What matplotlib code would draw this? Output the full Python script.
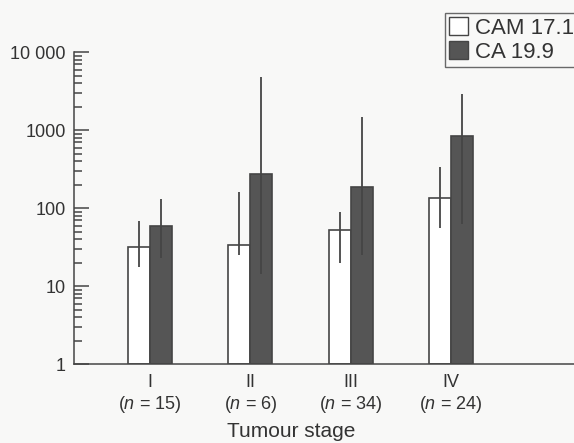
import matplotlib
matplotlib.use("Agg")
import matplotlib.pyplot as plt
import numpy as np
from matplotlib.ticker import FixedLocator, NullFormatter
from matplotlib.patches import Patch

plt.rcParams['font.family'] = ['Liberation Sans', 'DejaVu Sans']
plt.rcParams['mathtext.fontset'] = 'custom'
plt.rcParams['mathtext.it'] = 'Liberation Sans:italic'
plt.rcParams['mathtext.rm'] = 'Liberation Sans'

# data (U/ml, log scale)
stages = ["I", "II", "III", "IV"]
n_patients = [15, 6, 34, 24]
cam_median = [31, 33, 52, 133]
cam_low = [17.5, 25, 20, 56]
cam_high = [68, 162, 89, 336]
ca_median = [59, 275, 189, 855]
ca_low = [23, 14.5, 25, 63]
ca_high = [133, 4800, 1470, 2950]

ink = '#454545'
bg = '#f8f8f7'

fig = plt.figure(figsize=(5.74, 4.43), dpi=100, facecolor=bg)
ax = fig.add_axes([0.129, 0.1777, 0.871, 0.7043], facecolor=bg)

x = np.arange(len(stages))
w = 0.22
ax.bar(x - w / 2, cam_median, width=w, bottom=1, color='white', edgecolor=ink,
       linewidth=1.2, zorder=2)
ax.bar(x + w / 2, ca_median, width=w, bottom=1, color='#555555', edgecolor=ink,
       linewidth=1.2, zorder=2)
ax.vlines(x - w / 2, cam_low, cam_high, color=ink, linewidth=1.3, zorder=3)
ax.vlines(x + w / 2, ca_low, ca_high, color=ink, linewidth=1.3, zorder=3)

ax.set_yscale('log')
ax.set_ylim(1, 10000)
ax.set_xlim(-0.76, 4.23)

ax.yaxis.set_major_locator(FixedLocator([1, 10, 100, 1000, 10000]))
ax.set_yticklabels(["1", "10", "100", "1000", "10 000"])
ax.yaxis.set_minor_locator(FixedLocator(
    [m * 10 ** d for d in range(4) for m in range(2, 10)]))
ax.yaxis.set_minor_formatter(NullFormatter())
ax.tick_params(axis='y', which='major', direction='in', length=11, width=1.1,
               color=ink, labelsize=13, pad=6, labelcolor='#333333')
ax.tick_params(axis='y', which='minor', direction='in', length=6, width=1.1,
               color=ink)

ax.set_xticks(x)
ax.set_xticklabels([f"{s}\n($n$ = {n})" for s, n in zip(stages, n_patients)],
                   fontsize=13, color='#333333', linespacing=1.2)
ax.tick_params(axis='x', length=0, pad=7)

ax.set_xlabel("Tumour stage", fontsize=15, color='#333333')
ax.xaxis.set_label_coords(0.434, -0.186)

for side in ['top', 'right']:
    ax.spines[side].set_visible(False)
for side in ['left', 'bottom']:
    ax.spines[side].set_color(ink)
    ax.spines[side].set_linewidth(1.1)

handles = [Patch(facecolor='white', edgecolor=ink, label='CAM 17.1'),
           Patch(facecolor='#555555', edgecolor=ink, label='CA 19.9')]
leg = fig.legend(handles=handles, loc='upper left', bbox_to_anchor=(0.775, 0.971),
                 fontsize=16, frameon=True, fancybox=False, handlelength=0.85,
                 handleheight=0.85, handletextpad=0.3, borderpad=0.2,
                 labelspacing=0.1, borderaxespad=0)
leg.get_frame().set_edgecolor(ink)
leg.get_frame().set_facecolor(bg)
leg.get_frame().set_linewidth(1.0)
for t in leg.get_texts():
    t.set_color('#333333')

fig.savefig("out.png", dpi=100, facecolor=bg)
